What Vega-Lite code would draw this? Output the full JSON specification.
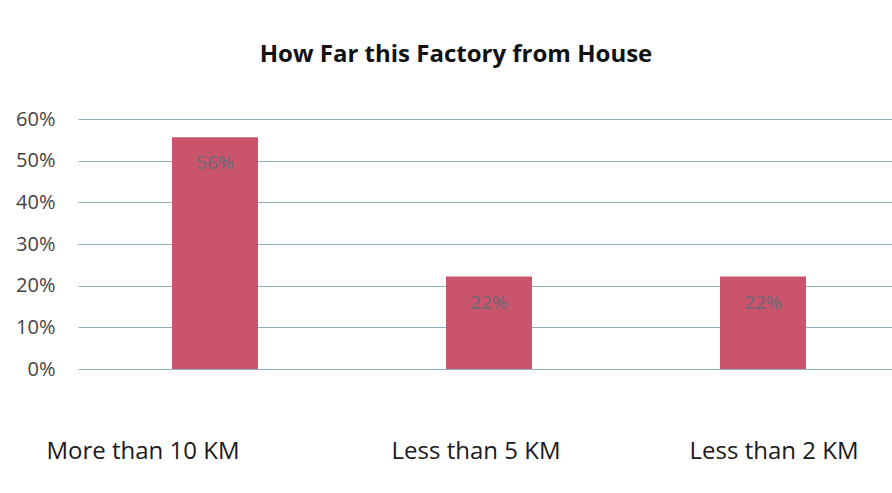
{
  "$schema": "https://vega.github.io/schema/vega-lite/v6.json",
  "autosize": {"type": "none"},
  "width": 822,
  "height": 250,
  "padding": {"left": 78, "top": 119, "right": 0, "bottom": 124},
  "background": "white",
  "title": {
    "text": "How Far this Factory from House",
    "font": "Open Sans",
    "fontSize": 24,
    "fontWeight": "bold",
    "color": "#111111",
    "anchor": "middle",
    "dx": -33,
    "offset": 42
  },
  "data": {
    "values": [
      {"distance": "More than 10 KM", "share": 0.556},
      {"distance": "Less than 5 KM", "share": 0.222},
      {"distance": "Less than 2 KM", "share": 0.222}
    ]
  },
  "encoding": {
    "x": {
      "field": "distance",
      "type": "nominal",
      "sort": null,
      "scale": {"paddingInner": 0.68, "paddingOuter": 0.34},
      "axis": {
        "title": null,
        "labelAngle": 0,
        "ticks": false,
        "domain": false,
        "labelPadding": 70,
        "labelLimit": 0,
        "labelFont": "Open Sans",
        "labelFontSize": 24,
        "labelColor": "#1a1a1a",
        "labelBaseline": "top",
        "labelOffset": {"expr": "datum.value === 'More than 10 KM' ? -72 : datum.value === 'Less than 5 KM' ? -13 : 11"}
      }
    },
    "y": {
      "field": "share",
      "type": "quantitative",
      "scale": {"domain": [0, 0.6]},
      "axis": {
        "title": null,
        "format": ".0%",
        "values": [0, 0.1, 0.2, 0.3, 0.4, 0.5, 0.6],
        "labelOverlap": false,
        "ticks": false,
        "domain": false,
        "labelPadding": 23,
        "labelFont": "Open Sans",
        "labelFontSize": 20,
        "labelColor": "#444444",
        "gridColor": "#8fb0bf",
        "gridWidth": 1.2
      }
    }
  },
  "layer": [
    {
      "mark": {"type": "bar", "color": "#c9546b", "width": 86}
    },
    {
      "mark": {
        "type": "text",
        "baseline": "top",
        "dy": 17,
        "font": "Open Sans",
        "fontSize": 19,
        "color": "#6a6a78"
      },
      "encoding": {
        "text": {"field": "share", "type": "quantitative", "format": ".0%"}
      }
    }
  ],
  "config": {"view": {"stroke": null}}
}
